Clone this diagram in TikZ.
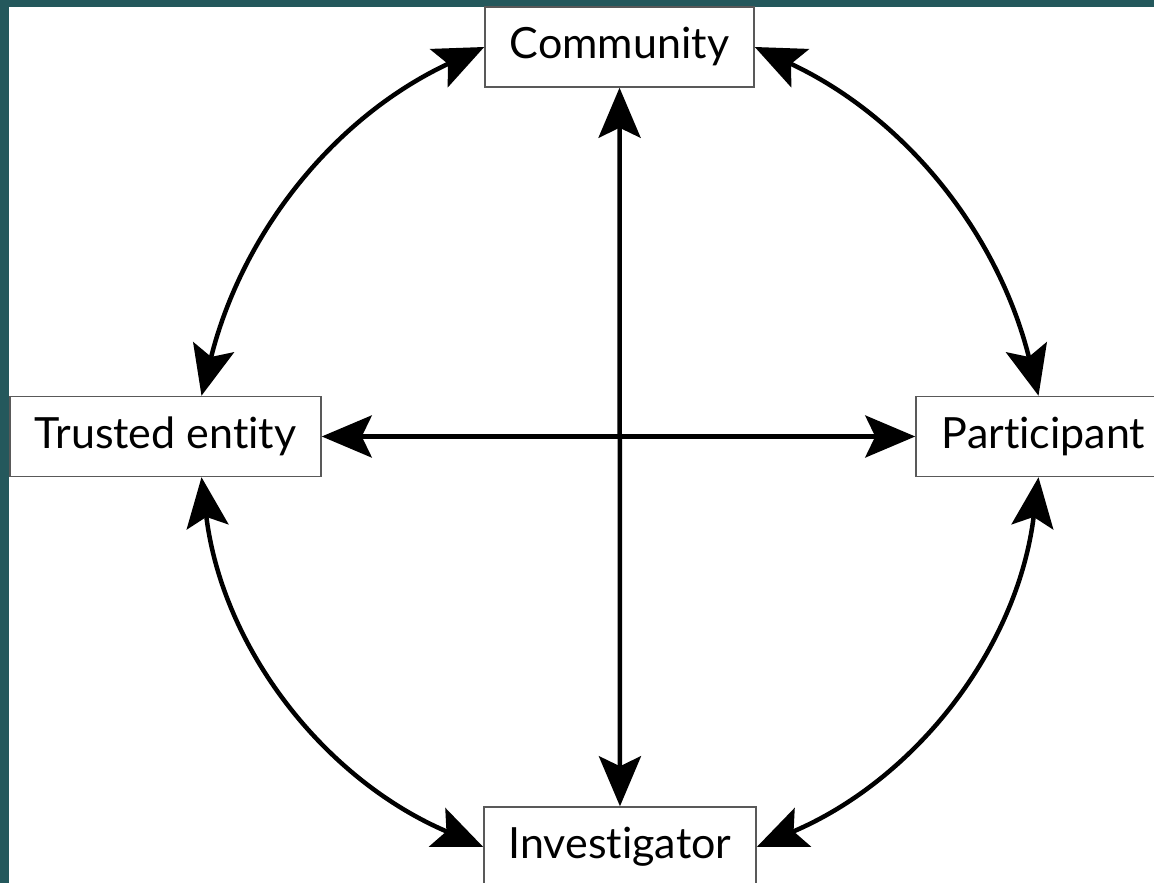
\documentclass[tikz,border=0pt]{standalone}
\usepackage{fontspec}
\setmainfont{Lato}[Ligatures={NoCommon,NoContextual}]
\usetikzlibrary{arrows.meta}
\usetikzlibrary{calc}

\definecolor{slideteal}{RGB}{36,88,92}

\begin{document}
\begin{tikzpicture}[x=1pt, y=1pt,
    box/.style={draw=black!65, line width=1.5pt, fill=white, minimum height=80pt,
      inner xsep=0pt, font=\fontsize{43}{48}\selectfont},
    link/.style={line width=4.5pt, looseness=0.95,
      {Stealth[length=50pt,width=42pt,inset=10pt]}-{Stealth[length=50pt,width=42pt,inset=10pt]}}]
      \useasboundingbox (0,0) rectangle (1154,883);

      % slide frame
      \fill[slideteal] (0,0) rectangle (1154,883);
      \fill[white] (9,0) rectangle (1154,876);

      \node[box, minimum width=269pt] (community) at (619.5,836) {Community};
      \node[box, minimum width=311pt] (trusted) at (165.5,446.5) {Trusted entity};
      \node[box, minimum width=255pt] (participant) at (1043.5,446.5) {Participant};
      \node[box, minimum width=272pt] (investigator) at (620,36) {Investigator};

      \draw[link] (community) -- (investigator);
      \draw[link] (trusted.east) -- (participant.west);

      \draw[link] (community.west) to[out=205,in=76] ($(trusted.north)+(36,0)$);
      \draw[link] (community.east) to[out=-25,in=104] ($(participant.north)+(-5,0)$);
      \draw[link] ($(trusted.south)+(36,0)$) to[out=-83,in=157] (investigator.west);
      \draw[link] ($(participant.south)+(-5,0)$) to[out=-97,in=23] (investigator.east);

    \end{tikzpicture}
\end{document}
